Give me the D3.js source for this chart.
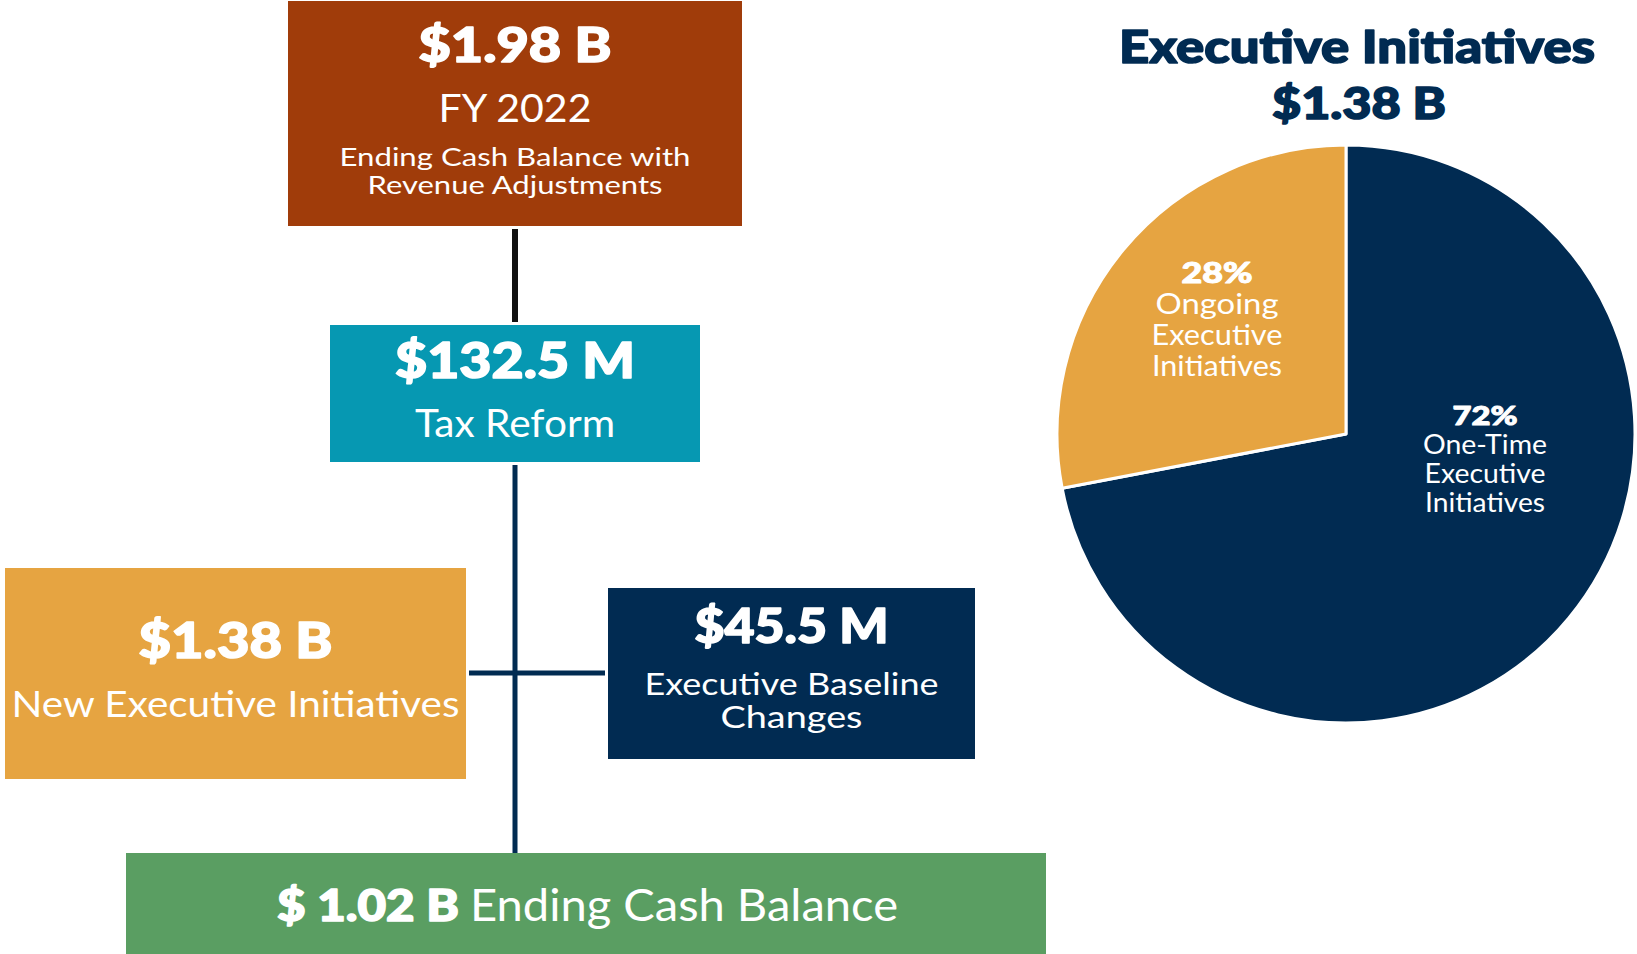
<!DOCTYPE html>
<html>
<head>
<meta charset="utf-8">
<script src="https://cdn.jsdelivr.net/npm/d3@7"></script>
<style>
  body { margin: 0; background: #fff; }
  svg { display: block; }
</style>
</head>
<body>
<script>
var width = 1637,
    height = 954;

// flow of cash, top to bottom
var flowValues = ["$1.98 B", "$132.5 M", "$1.38 B", "$45.5 M", "$ 1.02 B"];
var flowLabels = [
    ["FY 2022", "Ending Cash Balance with", "Revenue Adjustments"],
    ["Tax Reform"],
    ["New Executive Initiatives"],
    ["Executive Baseline", "Changes"],
    ["Ending Cash Balance"]
];
var flowColors = ["#A03C0A", "#0698B2", "#E6A441", "#012B52", "#5A9E62"];

// pie
var pieTitle = ["Executive Initiatives", "$1.38 B"];
var pieCategories = [["One-Time", "Executive", "Initiatives"], ["Ongoing", "Executive", "Initiatives"]];
var pieShares = [72, 28];
var pieColors = ["#012B52", "#E6A441"];

// layout of the boxes (x, y, w, h) and their text lines
var boxes = [
    {x: 288, y: 1, w: 454, h: 225,
        value: {y: 62, size: 48, len: 193},
        lines: [{y: 122, size: 39, len: 153}, {y: 166, size: 25, len: 351}, {y: 194, size: 25, len: 295}]},
    {x: 330, y: 325, w: 370, h: 137,
        value: {y: 378, size: 50, len: 240},
        lines: [{y: 437, size: 39, len: 200}]},
    {x: 5, y: 568, w: 461, h: 211,
        value: {y: 658, size: 50, len: 194},
        lines: [{y: 717, size: 37, len: 448}]},
    {x: 608, y: 588, w: 367, h: 171,
        value: {y: 643, size: 48, len: 194},
        lines: [{y: 695, size: 30, len: 294}, {y: 728, size: 30, len: 142}]},
    {x: 126, y: 853, w: 920, h: 101}
];

var svg = d3.select("body").append("svg")
    .attr("width", width)
    .attr("height", height)
    .style("font-family", "Lato, 'Open Sans', sans-serif");

// heavy face: bold plus a thin outline in the same colour
function heavy(sel, colour) {
    sel.attr("font-weight", 900)
        .attr("stroke", colour)
        .attr("stroke-width", 1.6)
        .attr("stroke-linejoin", "round");
}

// connectors
var stem = 515;
svg.append("line")
    .attr("x1", stem).attr("x2", stem)
    .attr("y1", 229).attr("y2", 322)
    .attr("stroke", "#111").attr("stroke-width", 6);
svg.append("line")
    .attr("x1", stem).attr("x2", stem)
    .attr("y1", 465).attr("y2", 853)
    .attr("stroke", "#012B52").attr("stroke-width", 5);
svg.append("line")
    .attr("x1", 469).attr("x2", 605)
    .attr("y1", 673).attr("y2", 673)
    .attr("stroke", "#012B52").attr("stroke-width", 5);

var g = svg.append("g").selectAll("g")
    .data(boxes)
    .enter().append("g");

g.append("rect")
    .attr("x", function (d) { return d.x; })
    .attr("y", function (d) { return d.y; })
    .attr("width", function (d) { return d.w; })
    .attr("height", function (d) { return d.h; })
    .attr("fill", function (d, i) { return flowColors[i]; });

g.filter(function (d) { return d.value; }).each(function (d, i) {
    var node = d3.select(this);
    var cx = d.x + d.w / 2;
    node.append("text")
        .attr("x", cx).attr("y", d.value.y)
        .attr("text-anchor", "middle")
        .attr("fill", "#fff")
        .call(heavy, "#fff")
        .attr("font-size", d.value.size)
        .attr("textLength", d.value.len)
        .attr("lengthAdjust", "spacingAndGlyphs")
        .text(flowValues[i]);
    node.selectAll("text.line")
        .data(d.lines)
        .enter().append("text")
        .attr("class", "line")
        .attr("x", cx)
        .attr("y", function (l) { return l.y; })
        .attr("text-anchor", "middle")
        .attr("fill", "#fff")
        .attr("font-size", function (l) { return l.size; })
        .attr("textLength", function (l) { return l.len; })
        .attr("lengthAdjust", "spacingAndGlyphs")
        .text(function (l, j) { return flowLabels[i][j]; });
});

// last box: value and label on one line
var last = svg.append("text")
    .attr("y", 921)
    .attr("fill", "#fff")
    .attr("font-size", 44);
last.append("tspan")
    .attr("x", 277)
    .call(heavy, "#fff")
    .attr("textLength", 182)
    .attr("lengthAdjust", "spacingAndGlyphs")
    .text(flowValues[4]);
last.append("tspan")
    .attr("x", 470)
    .attr("textLength", 428)
    .attr("lengthAdjust", "spacingAndGlyphs")
    .text(flowLabels[4][0]);

// pie chart
var pcx = 1346, pcy = 434, radius = 289;

svg.append("text")
    .attr("x", 1357).attr("y", 63)
    .attr("text-anchor", "middle")
    .attr("fill", "#012B52")
    .call(heavy, "#012B52")
    .attr("font-size", 46)
    .attr("textLength", 476)
    .attr("lengthAdjust", "spacingAndGlyphs")
    .text(pieTitle[0]);
svg.append("text")
    .attr("x", 1359).attr("y", 119)
    .attr("text-anchor", "middle")
    .attr("fill", "#012B52")
    .call(heavy, "#012B52")
    .attr("font-size", 44)
    .attr("textLength", 174)
    .attr("lengthAdjust", "spacingAndGlyphs")
    .text(pieTitle[1]);

var pie = d3.pie().sort(null).value(function (d) { return d; });
var arc = d3.arc().innerRadius(0).outerRadius(radius);

var pg = svg.append("g").attr("transform", "translate(" + pcx + "," + pcy + ")");
pg.selectAll("path")
    .data(pie(pieShares))
    .enter().append("path")
    .attr("d", arc)
    .attr("fill", function (d, i) { return pieColors[i]; })
    .attr("stroke", "#fff")
    .attr("stroke-width", 3)
    .attr("stroke-linejoin", "round");

// label placement relative to the pie centre
var pieLabelPos = [
    {x: 139, y: -9, pctLen: 65, gap: 29, size: 26, lens: [124, 121, 120]},
    {x: -129, y: -151, pctLen: 71, gap: 31, size: 28, lens: [123, 131, 130]}
];

pieLabelPos.forEach(function (p, i) {
    var t = pg.append("g");
    t.append("text")
        .attr("x", p.x).attr("y", p.y)
        .attr("text-anchor", "middle")
        .attr("fill", "#fff")
        .call(heavy, "#fff")
        .attr("stroke-width", 1)
        .attr("font-size", p.size)
        .attr("textLength", p.pctLen)
        .attr("lengthAdjust", "spacingAndGlyphs")
        .text(pieShares[i] + "%");
    t.selectAll("text.cat")
        .data(pieCategories[i])
        .enter().append("text")
        .attr("class", "cat")
        .attr("x", p.x)
        .attr("y", function (d, j) { return p.y + p.gap * (j + 1); })
        .attr("text-anchor", "middle")
        .attr("fill", "#fff")
        .attr("font-size", p.size)
        .attr("textLength", function (d, j) { return p.lens[j]; })
        .attr("lengthAdjust", "spacingAndGlyphs")
        .text(function (d) { return d; });
});
</script>
</body>
</html>
